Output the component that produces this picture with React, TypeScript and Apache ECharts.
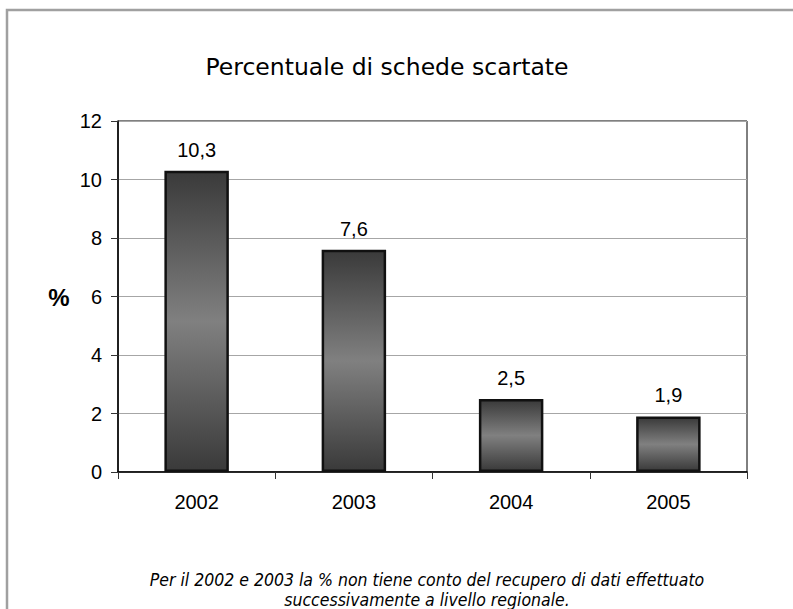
import React, { useEffect, useRef } from "react";
import * as echarts from "echarts";

const categories = ["2002", "2003", "2004", "2005"];
const values = [10.3, 7.6, 2.5, 1.9];
const yTicks = { min: 0, max: 12, interval: 2 };
const titleText = "Percentuale di schede scartate";
const unitText = "%";
const noteLines = [
  "Per il 2002 e 2003 la % non tiene conto del recupero di dati effettuato",
  "successivamente a livello regionale.",
];

export default function App() {
  const ref = useRef<HTMLDivElement>(null);
  useEffect(() => {
    document.body.style.margin = "0";
    const chart = echarts.init(ref.current!, undefined, { renderer: "svg" });
    const grad = new echarts.graphic.LinearGradient(0, 0, 0, 1, [
      { offset: 0, color: "#3a3a3a" },
      { offset: 0.5, color: "#808080" },
      { offset: 1, color: "#3a3a3a" },
    ]);
    const sans = "Arial, 'Liberation Sans', sans-serif";
    chart.setOption({
      animation: false,
      backgroundColor: "#ffffff",
      grid: {
        left: 118,
        right: 46,
        top: 121,
        bottom: 137,
        show: true,
        borderColor: "#000",
        borderWidth: 1,
      },
      xAxis: {
        type: "category",
        data: categories,
        boundaryGap: true,
        axisLine: { show: true, lineStyle: { color: "#000", width: 1.5 } },
        axisTick: { show: true, length: 7, alignWithLabel: false, lineStyle: { color: "#333" } },
        axisLabel: { margin: 20, fontSize: 20, color: "#000", fontFamily: sans },
      },
      yAxis: {
        type: "value",
        min: yTicks.min,
        max: yTicks.max,
        interval: yTicks.interval,
        axisLine: { show: true, lineStyle: { color: "#000", width: 1.5 } },
        axisTick: { show: true, length: 7, lineStyle: { color: "#333" } },
        splitLine: { show: true, lineStyle: { color: "#a6a6a6", width: 1 } },
        axisLabel: { margin: 16, fontSize: 20, color: "#000", fontFamily: sans },
      },
      series: [
        {
          type: "bar",
          data: values,
          barWidth: "41%",
          itemStyle: { color: grad, borderColor: "#111", borderWidth: 2.5 },
          label: {
            show: true,
            position: "top",
            distance: 11,
            fontSize: 20,
            color: "#000",
            fontFamily: sans,
            formatter: (p: any) => String(p.value).replace(".", ","),
          },
        },
      ],
      graphic: [
        {
          type: "rect",
          shape: { x: 7, y: 10, width: 900, height: 800 },
          style: { fill: "none", stroke: "#a0a0a0", lineWidth: 2.5 },
          silent: true,
        },
        {
          type: "text",
          x: 387,
          y: 67,
          style: {
            text: titleText,
            fontSize: 23.5,
            fontFamily: "'Comic Sans MS', 'DejaVu Sans', sans-serif",
            fill: "#000",
            textAlign: "center",
            textVerticalAlign: "middle",
          },
        },
        {
          type: "text",
          x: 59,
          y: 297,
          style: {
            text: unitText,
            fontSize: 24,
            fontWeight: "bold",
            fontFamily: sans,
            fill: "#000",
            textAlign: "center",
            textVerticalAlign: "middle",
          },
        },
        {
          type: "text",
          x: 427,
          y: 580,
          style: {
            text: noteLines[0],
            fontSize: 17.5,
            fontStyle: "italic",
            fontFamily: "Tahoma, 'DejaVu Sans Condensed', 'DejaVu Sans', sans-serif",
            fill: "#000",
            textAlign: "center",
            textVerticalAlign: "middle",
          },
        },
        {
          type: "text",
          x: 427,
          y: 600,
          style: {
            text: noteLines[1],
            fontSize: 17.5,
            fontStyle: "italic",
            fontFamily: "Tahoma, 'DejaVu Sans Condensed', 'DejaVu Sans', sans-serif",
            fill: "#000",
            textAlign: "center",
            textVerticalAlign: "middle",
          },
        },
      ],
    });
    return () => chart.dispose();
  }, []);
  return <div ref={ref} style={{ width: 793, height: 609 }} />;
}
